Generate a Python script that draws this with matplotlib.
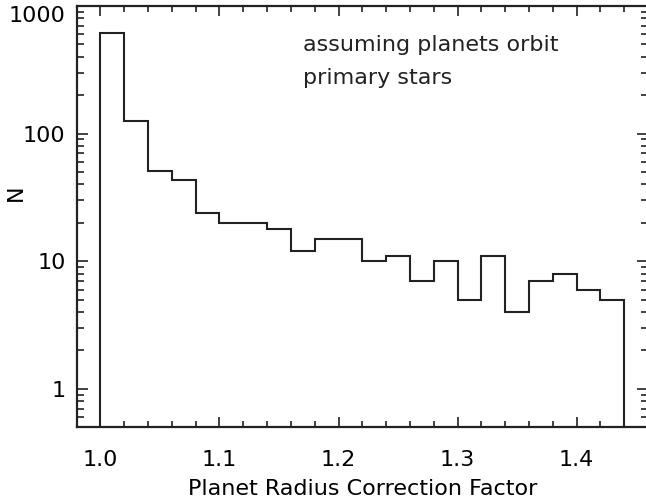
import numpy as np
import matplotlib
matplotlib.use('Agg')
from matplotlib import pyplot as plt

# histogram of the radius correction factor, bins of 0.02
bin_edges = np.round(np.arange(1.00, 1.4401, 0.02), 2)
counts = [612, 126, 51, 43, 24, 20, 20, 18, 12, 15, 15,
          10, 11, 7, 10, 5, 11, 4, 7, 8, 6, 5]

x_ticks = [1.0, 1.1, 1.2, 1.3, 1.4]
x_ticklabels = ['1.0', '1.1', '1.2', '1.3', '1.4']
y_ticks = [1, 10, 100, 1000]
y_ticklabels = ['1', '10', '100', '1000']

plt.rcParams['font.family'] = ['DejaVu Sans']
plt.rcParams['font.size'] = 16

fig = plt.figure(figsize=(6.46, 5.0), dpi=100)
ax = fig.add_axes([0.1187, 0.1454, 0.8843, 0.8426])

ax.stairs(counts, bin_edges, baseline=1e-3, fill=False,
          color='#222222', linewidth=1.5)

ax.set_yscale('log')
ax.set_xlim(0.98, 1.46)
ax.set_ylim(0.5, 1000)

ax.set_xticks(x_ticks)
ax.set_xticklabels(x_ticklabels)
ax.set_xticks(np.arange(1.0, 1.461, 0.02), minor=True)
ax.set_yticks(y_ticks)
ax.set_yticklabels(y_ticklabels)

ax.tick_params(which='both', direction='in', top=True, right=True,
               color='#222222', width=1.2)
ax.tick_params(axis='x', which='major', length=7, pad=16)
ax.tick_params(axis='x', which='minor', length=4)
ax.tick_params(axis='y', which='major', length=8, pad=8)
ax.tick_params(axis='y', which='minor', length=5)
for s in ax.spines.values():
    s.set_linewidth(1.6)
    s.set_color('#222222')

# the top label sits just under the frame
ax.yaxis.get_major_ticks()[-1].label1.set_verticalalignment('top')

ax.set_xlabel('Planet Radius Correction Factor', labelpad=7)
ax.set_ylabel('N')
ax.yaxis.set_label_coords(-0.089, 0.556)

ax.text(303, 455, 'assuming planets orbit', transform=None,
        ha='left', va='center', fontsize=16, color='#222222')
ax.text(303, 422, 'primary stars', transform=None,
        ha='left', va='center', fontsize=16, color='#222222')

fig.savefig('out.png', dpi=100)
